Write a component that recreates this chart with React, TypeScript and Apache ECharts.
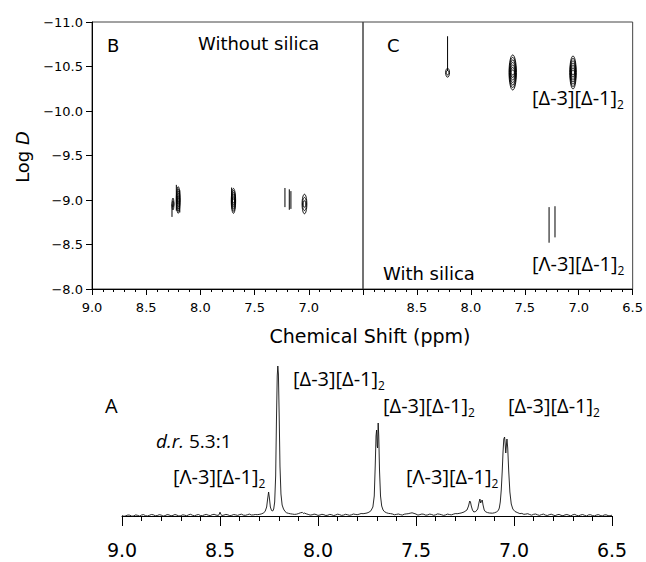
import React, { useEffect, useRef } from 'react';
import * as echarts from 'echarts';

// ---------- data ----------
const ppmTicks = [9.0, 8.5, 8.0, 7.5, 7.0, 6.5];
const logDTicks = [-11.0, -10.5, -10.0, -9.5, -9.0, -8.5, -8.0];

// 2D DOSY contours: [ppm, logD centre, half-width (ppm), half-height (logD), rings]
const contoursB = [
  [8.253, -8.955, 0.009, 0.067, 2],
  [8.205, -9.0, 0.017, 0.15, 6],
  [7.695, -8.99, 0.02, 0.14, 6],
  [7.04, -8.955, 0.022, 0.11, 3],
];
// vertical streaks: [ppm, logD from, logD to]
const streaksB = [
  [8.262, -8.95, -8.81],
  [8.222, -9.17, -8.88],
  [8.19, -9.11, -8.86],
  [7.712, -9.14, -9.0],
  [7.22, -9.135, -8.92],
  [7.18, -9.12, -8.89],
  [7.165, -9.1, -8.9],
];
const contoursC = [
  [8.216, -10.43, 0.018, 0.05, 2],
  [7.612, -10.433, 0.034, 0.197, 7],
  [7.053, -10.433, 0.03, 0.185, 7],
];
const streaksC = [
  [8.216, -10.84, -10.45],
  [7.275, -8.92, -8.52],
  [7.22, -8.93, -8.58],
];

// 1D 1H spectrum: [ppm, intensity]
const spectrum = [
  [9.0, 0.5], [8.99, -0.3], [8.98, 0.2], [8.97, 1.0], [8.96, 0.8], [8.95, -0.2], [8.94, 0.1],
  [8.93, 1.1], [8.92, 0.6], [8.91, -0.1], [8.9, 1.0], [8.89, 1.4], [8.88, 0.3], [8.87, 0.0],
  [8.86, 0.7], [8.85, 1.5], [8.84, 1.2], [8.83, 0.2], [8.82, 0.5], [8.81, 1.3], [8.8, 0.9],
  [8.79, -0.1], [8.78, 0.4], [8.77, 1.4], [8.76, 1.1], [8.75, 0.1], [8.74, 0.6], [8.73, 1.5],
  [8.72, 0.9], [8.71, 0.0], [8.7, 0.3], [8.69, 1.2], [8.68, 0.8], [8.67, 0.2], [8.66, 1.2],
  [8.65, 1.7], [8.64, 0.7], [8.63, 0.2], [8.62, 1.0], [8.61, 1.5], [8.6, 0.5], [8.59, 0.3],
  [8.58, 1.1], [8.57, 1.6], [8.56, 0.8], [8.55, 0.4], [8.54, 1.3], [8.53, 1.7], [8.52, 0.9],
  [8.51, 0.6], [8.505, 1.2], [8.5, 3.8], [8.495, 1.4], [8.49, 0.5], [8.48, 0.9], [8.47, 1.6],
  [8.46, 1.2], [8.45, 0.3], [8.44, 0.7], [8.43, 1.5], [8.42, 1.1], [8.41, 0.6], [8.4, 1.4],
  [8.39, 1.8], [8.38, 0.8], [8.37, 0.7], [8.36, 1.3], [8.35, 1.9], [8.34, 1.0], [8.33, 1.1],
  [8.32, 1.5], [8.31, 1.3], [8.3, 1.6], [8.29, 2.0], [8.28, 2.8], [8.27, 4.5], [8.262, 9],
  [8.257, 17], [8.252, 24], [8.248, 18], [8.243, 9], [8.237, 5.5], [8.231, 5.0], [8.226, 7],
  [8.221, 14], [8.216, 40], [8.212, 95], [8.208, 140], [8.205, 150], [8.202, 142], [8.198, 100],
  [8.194, 50], [8.189, 22], [8.183, 11], [8.176, 7], [8.168, 4.5], [8.16, 3.2], [8.15, 2.6],
  [8.14, 2.2], [8.13, 1.9], [8.12, 1.6], [8.11, 1.8], [8.1, 2.4], [8.09, 3.2], [8.08, 3.6],
  [8.075, 2.6], [8.07, 3.0], [8.06, 2.2], [8.05, 1.6], [8.04, 0.9], [8.03, 1.2], [8.02, 1.9],
  [8.01, 1.5], [8.0, 0.6], [7.99, 1.0], [7.98, 1.7], [7.97, 1.3], [7.96, 0.5], [7.95, 0.8],
  [7.94, 1.6], [7.93, 1.2], [7.92, 0.4], [7.91, 1.0], [7.9, 1.8], [7.89, 1.4], [7.88, 0.6],
  [7.87, 0.9], [7.86, 1.7], [7.85, 1.3], [7.84, 0.7], [7.83, 1.1], [7.82, 2.0], [7.81, 1.6],
  [7.8, 1.3], [7.79, 1.8], [7.78, 2.5], [7.77, 2.3], [7.76, 2.6], [7.75, 3.0], [7.74, 3.8],
  [7.73, 5.2], [7.72, 9], [7.713, 20], [7.708, 50], [7.704, 80], [7.701, 86], [7.698, 70],
  [7.696, 68], [7.693, 93], [7.69, 80], [7.686, 45], [7.681, 20], [7.675, 10], [7.668, 6],
  [7.66, 4.2], [7.65, 3.2], [7.64, 2.6], [7.63, 2.4], [7.62, 2.0], [7.61, 1.2], [7.6, 1.6],
  [7.59, 2.0], [7.58, 1.4], [7.57, 0.9], [7.56, 1.8], [7.55, 2.1], [7.54, 2.3], [7.53, 2.8],
  [7.52, 3.2], [7.51, 2.6], [7.5, 1.9], [7.49, 0.9], [7.48, 1.4], [7.47, 2.0], [7.46, 1.7],
  [7.45, 0.8], [7.44, 1.1], [7.43, 1.9], [7.42, 1.5], [7.41, 0.7], [7.4, 1.2], [7.39, 2.1],
  [7.38, 1.8], [7.37, 1.3], [7.36, 0.6], [7.35, 1.0], [7.34, 1.9], [7.33, 1.5], [7.32, 1.1],
  [7.31, 1.8], [7.3, 2.4], [7.29, 2.3], [7.28, 2.6], [7.27, 3.0], [7.255, 4.0], [7.24, 6],
  [7.232, 10], [7.226, 15], [7.222, 14], [7.218, 10], [7.212, 6], [7.205, 4], [7.195, 4.5],
  [7.185, 7], [7.178, 14], [7.174, 17], [7.17, 13], [7.166, 15], [7.162, 16], [7.158, 11],
  [7.152, 6], [7.145, 4.2], [7.135, 3.4], [7.125, 3.0], [7.11, 2.8], [7.1, 3.2], [7.09, 4.0],
  [7.08, 5.5], [7.075, 8], [7.07, 14], [7.065, 26], [7.06, 45], [7.056, 64], [7.052, 77],
  [7.048, 79], [7.045, 72], [7.042, 63], [7.039, 70], [7.036, 77], [7.032, 68], [7.027, 45],
  [7.021, 24], [7.014, 12], [7.006, 7], [6.995, 4.5], [6.98, 3.2], [6.97, 2.4], [6.96, 2.6],
  [6.95, 1.7], [6.94, 1.9], [6.93, 2.3], [6.92, 1.5], [6.91, 0.8], [6.9, 1.7], [6.89, 2.0],
  [6.88, 1.2], [6.87, 0.6], [6.86, 1.4], [6.85, 1.9], [6.84, 0.9], [6.83, 0.5], [6.82, 1.3],
  [6.81, 1.8], [6.8, 1.0], [6.79, 0.3], [6.78, 1.2], [6.77, 1.6], [6.76, 0.7], [6.75, 0.2],
  [6.74, 1.1], [6.73, 1.5], [6.72, 0.8], [6.71, 0.1], [6.7, 1.2], [6.69, 1.6], [6.68, 0.6],
  [6.67, 0.2], [6.66, 1.0], [6.65, 1.5], [6.64, 0.7], [6.63, 0.0], [6.62, 1.1], [6.61, 1.3],
  [6.6, 0.5], [6.59, 0.1], [6.58, 0.9], [6.57, 1.4], [6.56, 0.6], [6.55, 0.0], [6.54, 1.0],
  [6.53, 1.2], [6.52, 0.4], [6.51, 0.2], [6.5, 0.8],
];

// ---------- helpers ----------
const fmtPpm = (hide: number) => (v: number) => (Math.abs(v - hide) < 1e-6 ? '' : v.toFixed(1));
const fmtLogD = (v: number) => (v < 0 ? '\u2212' : '') + Math.abs(v).toFixed(1);

const contourRender = (params: any, api: any) => {
  const c = api.coord([api.value(0), api.value(1)]);
  const s = api.size([api.value(2), api.value(3)]);
  const n = api.value(4);
  const rx = Math.abs(s[0]);
  const ry = Math.abs(s[1]);
  const children: any[] = [];
  for (let i = 0; i < n; i++) {
    const f = (n - i) / n;
    children.push({
      type: 'ellipse',
      shape: { cx: c[0], cy: c[1], rx: Math.max(rx * (0.35 + 0.65 * f), 0.8), ry: ry * f },
      style: { fill: 'none', stroke: '#000', lineWidth: 0.9 },
    });
  }
  return { type: 'group', children };
};
const streakRender = (params: any, api: any) => {
  const p1 = api.coord([api.value(0), api.value(1)]);
  const p2 = api.coord([api.value(0), api.value(2)]);
  return {
    type: 'line',
    shape: { x1: p1[0], y1: p1[1], x2: p2[0], y2: p2[1] },
    style: { stroke: '#000', lineWidth: 1 },
  };
};

const LABEL_FONT = 'Open Sans';
const richLabel = {
  m: { fontFamily: LABEL_FONT, fontSize: 20, lineHeight: 27, fill: '#000' },
  s: { fontFamily: LABEL_FONT, fontSize: 12, lineHeight: 12, verticalAlign: 'bottom', fill: '#000' },
};
const compLabel = (x: number, y: number, sym: string) => ({
  type: 'text',
  x,
  y,
  style: {
    text: `{m|[${sym}-3][\u0394-1]}{s|2}`,
    rich: richLabel,
    textVerticalAlign: 'middle',
    textAlign: 'left',
  },
});
const plainText = (x: number, y: number, text: string, size: number, align = 'left', font = 'DejaVu Sans') => ({
  type: 'text',
  x,
  y,
  style: { text, fontFamily: font, fontSize: size, fill: '#000', textAlign: align, textVerticalAlign: 'middle' },
});

const topX = (gridIndex: number, hide: number) => ({
  type: 'value',
  gridIndex,
  min: 6.5,
  max: 9.0,
  interval: 0.5,
  inverse: true,
  axisLine: { show: true, lineStyle: { color: '#000', width: 1 } },
  axisTick: { show: true, length: 6, lineStyle: { color: '#000' } },
  minorTick: { show: true, splitNumber: 5, length: 3, lineStyle: { color: '#000' } },
  splitLine: { show: false },
  axisLabel: { formatter: fmtPpm(hide), fontFamily: 'DejaVu Sans', fontSize: 13, color: '#000', margin: 12 },
});

export default function App() {
  const ref = useRef<HTMLDivElement>(null);
  useEffect(() => {
    const chart = echarts.init(ref.current!, null, { renderer: 'svg' });
    const option: any = {
      animation: false,
      backgroundColor: '#fff',
      grid: [
        { left: 92, top: 22, width: 271, height: 267, show: true, borderColor: '#444', borderWidth: 1 },
        { left: 363, top: 22, width: 271, height: 267, show: true, borderColor: '#444', borderWidth: 1 },
        { left: 122, top: 356, width: 490, height: 171 },
      ],
      xAxis: [
        topX(0, 6.5),
        topX(1, 9.0),
        {
          type: 'value',
          gridIndex: 2,
          min: 6.5,
          max: 9.0,
          interval: 0.5,
          inverse: true,
          axisLine: { show: true, lineStyle: { color: '#000', width: 1 } },
          axisTick: { show: true, length: 10, lineStyle: { color: '#000' } },
          minorTick: { show: true, splitNumber: 5, length: 5, lineStyle: { color: '#000' } },
          splitLine: { show: false },
          axisLabel: { formatter: (v: number) => v.toFixed(1), fontFamily: 'DejaVu Sans', fontSize: 19, color: '#000', margin: 13 },
        },
      ],
      yAxis: [
        {
          type: 'value',
          gridIndex: 0,
          min: -11,
          max: -8,
          interval: 0.5,
          inverse: true,
          axisLine: { show: true, lineStyle: { color: '#000', width: 1 } },
          axisTick: { show: true, length: 6, lineStyle: { color: '#000' } },
          splitLine: { show: false },
          axisLabel: { formatter: fmtLogD, fontFamily: 'DejaVu Sans', fontSize: 13, color: '#000', margin: 9 },
        },
        { type: 'value', gridIndex: 1, min: -11, max: -8, inverse: true, show: false, splitLine: { show: false } },
        { type: 'value', gridIndex: 2, min: -11, max: 160, show: false, splitLine: { show: false } },
      ],
      series: [
        { type: 'custom', xAxisIndex: 0, yAxisIndex: 0, renderItem: contourRender, data: contoursB, silent: true },
        { type: 'custom', xAxisIndex: 0, yAxisIndex: 0, renderItem: streakRender, data: streaksB, silent: true },
        { type: 'custom', xAxisIndex: 1, yAxisIndex: 1, renderItem: contourRender, data: contoursC, silent: true },
        { type: 'custom', xAxisIndex: 1, yAxisIndex: 1, renderItem: streakRender, data: streaksC, silent: true },
        {
          type: 'line',
          xAxisIndex: 2,
          yAxisIndex: 2,
          data: spectrum,
          showSymbol: false,
          silent: true,
          lineStyle: { color: '#111', width: 0.9 },
        },
      ],
      graphic: [
        plainText(107, 45, 'B', 18),
        plainText(198, 43, 'Without silica', 18),
        plainText(387, 45, 'C', 18),
        plainText(383, 273, 'With silica', 18),
        compLabel(532, 97, '\u0394'),
        compLabel(532, 263, '\u039B'),
        plainText(370, 336, 'Chemical Shift (ppm)', 19, 'center'),
        {
          type: 'text',
          x: 22,
          y: 157,
          rotation: Math.PI / 2,
          style: {
            text: '{n|Log }{i|D}',
            rich: {
              n: { fontFamily: 'DejaVu Sans', fontSize: 18, fill: '#000' },
              i: { fontFamily: 'DejaVu Sans', fontSize: 18, fontStyle: 'italic', fill: '#000' },
            },
            textAlign: 'center',
            textVerticalAlign: 'middle',
          },
        },
        plainText(105, 405, 'A', 20, 'left', LABEL_FONT),
        {
          type: 'text',
          x: 156,
          y: 441,
          style: {
            text: '{i|d.r.}{n| 5.3:1}',
            rich: {
              i: { fontFamily: LABEL_FONT, fontSize: 19, fontStyle: 'italic', fill: '#000' },
              n: { fontFamily: LABEL_FONT, fontSize: 19, fill: '#000' },
            },
            textAlign: 'left',
            textVerticalAlign: 'middle',
          },
        },
        compLabel(173, 476, '\u039B'),
        compLabel(293, 378, '\u0394'),
        compLabel(383, 405, '\u0394'),
        compLabel(508, 405, '\u0394'),
        compLabel(406, 476, '\u039B'),
      ],
    };
    chart.setOption(option);
    return () => chart.dispose();
  }, []);
  return <div ref={ref} style={{ position: 'fixed', left: 0, top: 0, width: 646, height: 562 }} />;
}
